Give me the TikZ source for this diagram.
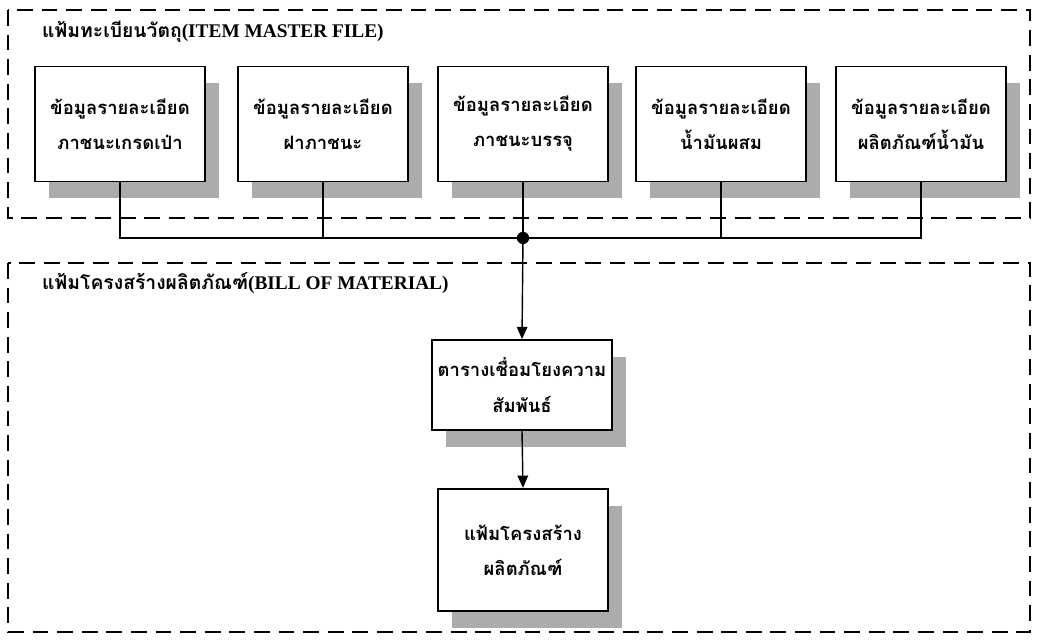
\documentclass[tikz,border=0pt]{standalone}
\usepackage{fontspec}
\setmainfont{Liberation Serif}
\newfontfamily\thai[Script=Thai]{Loma}
\usetikzlibrary{shadows,arrows.meta}
\begin{document}
\begin{tikzpicture}[x=0.02cm,y=-0.02cm,
  frame/.style={draw, line width=1.2pt, dash pattern=on 9pt off 5pt},
  box/.style={draw, line width=1pt, fill=white, minimum width=3.4cm, minimum height=2.3cm,
    align=center, font=\thai\bfseries\fontsize{10.5}{20}\selectfont,
    drop shadow={shadow xshift=0.28cm, shadow yshift=-0.34cm, fill=gray!65, opacity=1}},
  lab/.style={anchor=west, font=\thai\bfseries\fontsize{11}{13}\selectfont},
  conn/.style={line width=0.8pt}]
\useasboundingbox (0,0) rectangle (1038,644);
\draw[frame] (8,10) rectangle (1030,218);
\draw[frame] (8,263) rectangle (1030,632);
\node[lab] (l1) at (36,32) {แฟ้มทะเบียนวัตถุ{\rmfamily(ITEM MASTER FILE)}};
\node[lab] (l2) at (36,283) {แฟ้มโครงสร้างผลิตภัณฑ์{\rmfamily(BILL OF MATERIAL)}};
\node[box] (b1) at (120,124) {ข้อมูลรายละเอียด\\ภาชนะเกรดเป่า};
\node[box] (b2) at (323,124) {ข้อมูลรายละเอียด\\ฝาภาชนะ};
\node[box] (b3) at (523,124) {ข้อมูลรายละเอียด\\ภาชนะบรรจุ};
\node[box] (b4) at (721,124) {ข้อมูลรายละเอียด\\น้ำมันผสม};
\node[box] (b5) at (921,124) {ข้อมูลรายละเอียด\\ผลิตภัณฑ์น้ำมัน};
\node[box, minimum width=3.3cm, minimum height=1.8cm] (t1) at (522,385) {ตารางเชื่อมโยงความ\\สัมพันธ์};
\node[box, minimum width=3.4cm, minimum height=2.45cm] (t2) at (523,550) {แฟ้มโครงสร้าง\\ผลิตภัณฑ์};
\coordinate (j) at (523,238);
\draw[conn] (b1.south) |- (j) -| (b5.south);
\draw[conn] (b2.south) -- (b2.south |- j);
\draw[conn] (b4.south) -- (b4.south |- j);
\draw[conn] (b3.south) -- (j);
\draw[conn,-{Triangle[length=7pt,width=6pt]}] (j) -- (t1.north);
\draw[conn,-{Triangle[length=7pt,width=6pt]}] (t1.south) -- (t2.north);
\fill (j) circle (3.5pt);
\end{tikzpicture}
\end{document}
